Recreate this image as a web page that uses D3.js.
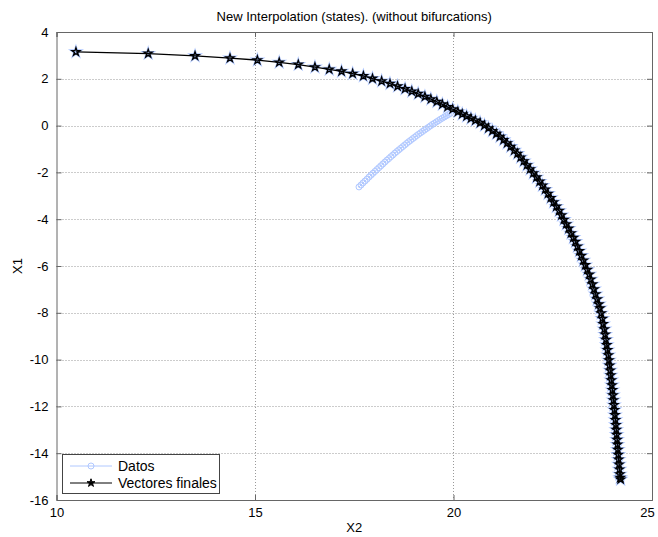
<!DOCTYPE html>
<html><head><meta charset="utf-8">
<script src="https://cdn.jsdelivr.net/npm/d3@7"></script>
<style>body{margin:0;background:#fff}svg{display:block}text{font-family:"Liberation Sans",Arial,sans-serif}</style>
</head><body>
<script>
const titleText = "New Interpolation (states). (without bifurcations)";
const xLabel = "X2", yLabel = "X1";
const xTicks = [10, 15, 20, 25];
const yTicks = [4, 2, 0, -2, -4, -6, -8, -10, -12, -14, -16];
const legendLabels = ["Datos", "Vectores finales"];

// Datos (light blue circles)
const datosX = [17.62,17.67,17.72,17.77,17.82,17.87,17.92,17.97,18.02,18.07,18.12,18.17,18.22,18.27,18.32,18.37,18.42,18.47,18.52,18.57,18.62,18.67,18.72,18.77,18.82,18.87,18.92,18.97,19.02,19.07,19.12,19.17,19.22,19.27,19.32,19.37,19.42,19.47,19.52,19.57,19.62,19.67,19.72,19.77,19.82,19.87,19.92];
const datosY = [-2.62,-2.54,-2.45,-2.37,-2.29,-2.20,-2.12,-2.04,-1.96,-1.88,-1.80,-1.72,-1.64,-1.56,-1.48,-1.41,-1.33,-1.26,-1.18,-1.11,-1.04,-0.97,-0.90,-0.83,-0.76,-0.69,-0.63,-0.56,-0.50,-0.43,-0.37,-0.31,-0.25,-0.19,-0.13,-0.07,-0.01,0.05,0.10,0.16,0.21,0.27,0.32,0.37,0.42,0.47,0.52];

// Vectores finales (black stars)
const vecX = [10.49,12.31,13.49,14.37,15.06,15.61,16.09,16.51,16.87,17.18,17.46,17.73,17.96,18.19,18.40,18.59,18.78,18.95,19.11,19.28,19.43,19.58,19.72,19.85,19.98,20.11,20.22,20.33,20.44,20.55,20.67,20.78,20.88,20.98,21.08,21.17,21.26,21.35,21.44,21.53,21.61,21.69,21.77,21.85,21.93,22.01,22.09,22.17,22.24,22.31,22.38,22.45,22.52,22.59,22.66,22.72,22.78,22.84,22.90,22.96,23.02,23.07,23.12,23.17,23.22,23.27,23.32,23.37,23.42,23.46,23.50,23.54,23.58,23.62,23.66,23.69,23.72,23.75,23.77,23.80,23.82,23.84,23.86,23.88,23.90,23.915,23.93,23.945,23.96,23.975,23.99,24.003,24.016,24.029,24.042,24.055,24.067,24.079,24.09,24.10,24.11,24.12,24.13,24.14,24.15,24.16,24.17,24.18,24.19,24.20,24.21];
const vecY = [3.15,3.08,2.98,2.88,2.80,2.70,2.61,2.50,2.40,2.32,2.22,2.12,2.01,1.90,1.79,1.68,1.57,1.46,1.36,1.24,1.13,1.02,0.91,0.80,0.70,0.59,0.49,0.40,0.31,0.22,0.12,0.01,-0.11,-0.23,-0.35,-0.47,-0.61,-0.75,-0.90,-1.06,-1.20,-1.36,-1.52,-1.69,-1.86,-2.03,-2.21,-2.39,-2.56,-2.73,-2.91,-3.09,-3.27,-3.46,-3.64,-3.83,-4.02,-4.21,-4.40,-4.60,-4.79,-4.96,-5.16,-5.36,-5.56,-5.76,-5.96,-6.16,-6.36,-6.57,-6.78,-6.99,-7.20,-7.42,-7.63,-7.80,-8.02,-8.25,-8.48,-8.70,-8.93,-9.15,-9.37,-9.59,-9.81,-10.03,-10.25,-10.46,-10.67,-10.88,-11.09,-11.30,-11.52,-11.73,-11.94,-12.15,-12.37,-12.58,-12.79,-13.00,-13.21,-13.42,-13.63,-13.85,-14.06,-14.27,-14.48,-14.69,-14.90,-15.05,-15.12];

const W = 658, H = 537;
const L = 56.5, R = 652, T = 32, B = 500;
const blue = "#b0c8ff";
const axisColor = "#666";

const svg = d3.select("body").append("svg").attr("width", W).attr("height", H);
const x = d3.scaleLinear().domain([10, 25]).range([L, R]);
const y = d3.scaleLinear().domain([-16, 4]).range([B, T]);

// grid
const grid = svg.append("g").attr("stroke", "#999").attr("stroke-width", 1).attr("stroke-dasharray", "1,2");
xTicks.slice(1, -1).forEach(t => grid.append("line").attr("x1", Math.round(x(t)) + 0.5).attr("x2", Math.round(x(t)) + 0.5).attr("y1", T).attr("y2", B));
yTicks.slice(1, -1).forEach(t => grid.append("line").attr("y1", Math.round(y(t)) + 0.5).attr("y2", Math.round(y(t)) + 0.5).attr("x1", L).attr("x2", R));

// axes
const fs = "13px";
const fmt = d => String(d);
const xAxisB = d3.axisBottom(x).tickValues(xTicks).tickSize(-5).tickPadding(8).tickFormat(fmt);
const xAxisT = d3.axisTop(x).tickValues(xTicks).tickSize(-5).tickFormat("");
const yAxisL = d3.axisLeft(y).tickValues(yTicks).tickSize(-5).tickPadding(8).tickFormat(fmt);
const yAxisR = d3.axisRight(y).tickValues(yTicks).tickSize(-5).tickFormat("");
function style(g) {
  g.selectAll(".domain").attr("stroke", axisColor);
  g.selectAll(".tick line").attr("stroke", axisColor);
  g.selectAll(".tick text").attr("fill", "#000").style("font-size", fs).style("font-family", "Liberation Sans, Arial, sans-serif");
}
const gxb = svg.append("g").attr("transform", `translate(0,${B})`).call(xAxisB).call(style);
gxb.selectAll(".tick text").filter(d => d === 25).attr("dx", -5);
svg.append("g").attr("transform", `translate(0,${T})`).call(xAxisT).call(style);
svg.append("g").attr("transform", `translate(${L},0)`).call(yAxisL).call(style);
svg.append("g").attr("transform", `translate(${R},0)`).call(yAxisR).call(style);

// Datos
const datos = datosX.map((v, i) => [v, datosY[i]]);
const lineGen = d3.line().x(d => x(d[0])).y(d => y(d[1]));
svg.append("path").datum(datos).attr("d", lineGen).attr("fill", "none").attr("stroke", blue).attr("stroke-width", 1);
svg.append("g").selectAll("circle").data(datos).join("circle")
  .attr("cx", d => x(d[0])).attr("cy", d => y(d[1])).attr("r", 3)
  .attr("fill", "none").attr("stroke", blue).attr("stroke-width", 1);

// Vectores finales
const vec = vecX.map((v, i) => [v, vecY[i]]);
const star = d3.symbol().type(d3.symbolStar).size(20);
svg.append("g").selectAll("path").data(vec).join("path")
  .attr("transform", d => `translate(${x(d[0])},${y(d[1])})`)
  .attr("d", star).attr("fill", "none").attr("stroke", blue).attr("stroke-width", 2.6);
svg.append("path").datum(vec).attr("d", lineGen).attr("fill", "none").attr("stroke", "#000").attr("stroke-width", 1.3);
svg.append("g").selectAll("path").data(vec).join("path")
  .attr("transform", d => `translate(${x(d[0])},${y(d[1])})`)
  .attr("d", star).attr("fill", "none").attr("stroke", "#000").attr("stroke-width", 1.3);

// title & labels
svg.append("text").attr("x", (L + R) / 2).attr("y", 21).attr("text-anchor", "middle").style("font-size", fs).text(titleText);
svg.append("text").attr("x", (L + R) / 2).attr("y", 532).attr("text-anchor", "middle").style("font-size", fs).text(xLabel);
svg.append("text").attr("transform", `translate(22,${(T + B) / 2}) rotate(-90)`).attr("text-anchor", "middle").style("font-size", fs).text(yLabel);

// legend
const lg = svg.append("g");
lg.append("rect").attr("x", 62.5).attr("y", 454.5).attr("width", 157).attr("height", 39).attr("fill", "#fff").attr("stroke", "#444").attr("stroke-width", 1);
const rows = [466, 483];
lg.append("line").attr("x1", 70).attr("x2", 112).attr("y1", rows[0]).attr("y2", rows[0]).attr("stroke", blue);
lg.append("circle").attr("cx", 91).attr("cy", rows[0]).attr("r", 3).attr("fill", "none").attr("stroke", blue);
lg.append("line").attr("x1", 70).attr("x2", 112).attr("y1", rows[1]).attr("y2", rows[1]).attr("stroke", "#000");
lg.append("path").attr("transform", `translate(91,${rows[1]})`).attr("d", star).attr("fill", "#000").attr("stroke", "#000");
legendLabels.forEach((t, i) => lg.append("text").attr("x", 118).attr("y", rows[i] + 5).style("font-size", "14px").text(t));
</script>
</body></html>
